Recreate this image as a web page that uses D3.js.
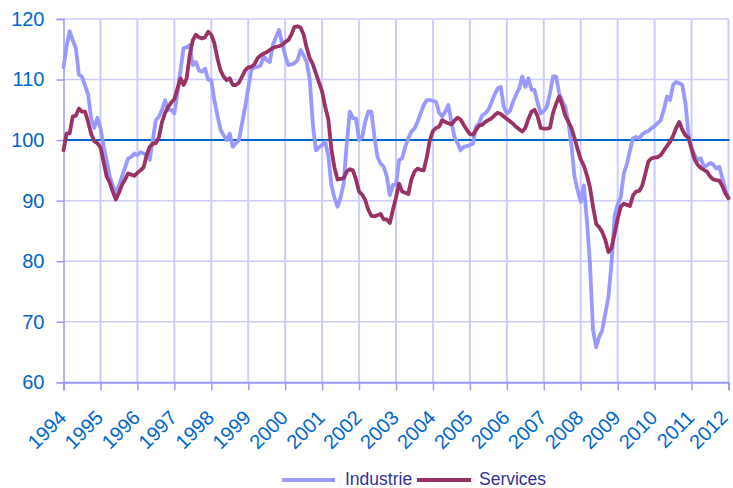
<!DOCTYPE html>
<html>
<head>
<meta charset="utf-8">
<script src="https://cdn.jsdelivr.net/npm/d3@7"></script>
<style>
  html, body { margin: 0; padding: 0; background: #ffffff; }
  svg { display: block; font-family: "Liberation Sans", Arial, sans-serif; }
</style>
</head>
<body>
<svg id="chart" width="733" height="488"></svg>
<script>
// Monthly values, January 1994 to January 2012
const yearLabels = ["1994","1995","1996","1997","1998","1999","2000","2001","2002","2003",
                    "2004","2005","2006","2007","2008","2009","2010","2011","2012"];
const yTicks = [60, 70, 80, 90, 100, 110, 120];
const seriesNames = ["Industrie", "Services"];

const industrie = [
  112, 115.5, 118, 116.5, 115.2, 110.8, 110.5, 109, 107.5, 103.5, 102, 103.7,
  102, 99, 96.7, 94, 92.5, 91.3, 92.5, 94, 95.5, 97, 97.2, 97.8,
  97.5, 98, 97.8, 97.5, 96.7, 100, 103.3, 103.9, 105, 106.6, 105, 105,
  104.4, 107.7, 111.5, 115.2, 115.3, 115.7, 112.4, 112.9, 111.5, 111.3, 111.8, 110,
  109.9, 106.6, 104.1, 101.7, 100.8, 100, 101.1, 98.9, 99.5, 100, 102.8, 105.5,
  108.5, 111.6, 112, 112.1, 112.3, 113.8, 113.2, 112.9, 115.7, 117, 118.2, 116,
  114, 112.4, 112.5, 112.7, 113.2, 114.9, 114, 112.9, 109.9, 102.5, 98.3, 98.8,
  99.2, 99.7, 97.5, 92.6, 90.5, 89, 90.5, 92.8, 99.4, 104.7, 103.6, 103.6,
  100, 100.5, 103, 104.7, 104.7, 100.5, 97.2, 96.1, 95.6, 94, 90.9, 92.6,
  92.6, 96.7, 97, 98.9, 100.3, 101.4, 101.9, 103, 104.4, 105.8, 106.6, 106.6,
  106.5, 106.3, 104.5, 103.9, 104.7, 105.8, 103, 100.5, 99.5, 98.3, 98.9, 99,
  99.2, 99.4, 102.2, 102.8, 104.1, 104.4, 105, 106.2, 107.5, 108.5, 108.8, 105.5,
  104.4, 104.8, 106.3, 107.5, 108.5, 110.5, 108.8, 110.2, 108.3, 108.3, 106.1, 104.4,
  104.8, 105.5, 107.7, 110.5, 110.5, 107.7, 106.5, 105.5, 103, 99, 93.9, 91.7,
  89.8, 92.5, 86.8, 79.6, 68.6, 65.8, 67.5, 68.6, 71.4, 74.1, 79.6, 87.5,
  89.3, 90.6, 94.5, 96.1, 98.3, 100.3, 100.5, 100.3, 101, 101.3, 101.5, 102,
  102.3, 102.8, 103.3, 105, 107.2, 106.6, 109.1, 109.6, 109.4, 109.1, 106.1, 101,
  98.8, 97.5, 96.7, 97, 95.6, 95.8, 96.2, 96, 95.3, 95.6, 93.7, 91.8,
  90.4
];

const services = [
  98.3, 101.1, 101.1, 103.9, 104, 105.2, 104.7, 104.7, 103, 101, 99.8, 99.5,
  98.8, 96.5, 94, 93, 91.5, 90.2, 91.3, 92.6, 93.5, 94.5, 94.3, 94.1,
  94.6, 95, 95.5, 97.5, 98.9, 99.4, 99.5, 100.5, 103, 104.5, 105.5, 106.2,
  106.8, 108.5, 110.2, 109.1, 110.2, 114, 116.5, 117.4, 117, 116.8, 117, 117.9,
  117.4, 116, 113.5, 111.5, 110.5, 109.9, 110.2, 109.1, 109.1, 109.5, 110.5, 111.5,
  112, 112.1, 112.5, 113.5, 114, 114.3, 114.5, 114.9, 115.2, 115.4, 115.5, 115.7,
  116.2, 116.5, 117.4, 118.7, 118.8, 118.6, 117.4, 115.2, 113.5, 112.5, 111, 109.5,
  108, 105.5, 103.5, 98.5, 95.5, 93.5, 93.6, 93.7, 94.8, 95.2, 95, 93.5,
  91.5, 91, 90.1, 88.5, 87.5, 87.4, 87.6, 87.8, 86.9, 86.9, 86.3, 88.5,
  90.5, 92.8, 91.5, 91.3, 91.1, 93.5, 94.8, 95.3, 95.1, 95, 97.2, 100,
  101.5, 102, 102.2, 103.3, 103, 102.8, 102.6, 103.2, 103.7, 103.4, 102.5, 101.7,
  101, 100.9, 101.7, 102.4, 102.5, 103, 103.3, 103.6, 104.1, 104.5, 104.3, 103.9,
  103.5, 103.1, 102.7, 102.2, 101.8, 101.4, 102, 103.5, 104.7, 105, 103.9, 102,
  101.9, 101.9, 102, 104.5, 106, 107.2, 105.8, 104, 103, 102, 100.3, 98.5,
  96.8, 95.8, 94.2, 92.2, 89, 86.2, 85.6, 84.8, 83.5, 81.5, 82.2, 84.5,
  87, 89, 89.5, 89.3, 89.1, 90.9, 91.5, 91.6, 92.5, 94.5, 96.5, 97,
  97.1, 97.2, 97.5, 98.3, 99, 99.7, 100.7, 102, 103, 101.7, 100.8, 100.4,
  98.5, 96.8, 95.9, 95.4, 95.1, 94.8, 94, 93.5, 93.4, 93.3, 92.4, 91.2,
  90.4
];

const colors = { Industrie: "#9999ff", Services: "#993366" };

const svg = d3.select("#chart");
const plotLeft = 63.5, plotRight = 728.5, plotTop = 19, plotBottom = 382.3;

const x = d3.scaleLinear().domain([0, industrie.length - 1]).range([plotLeft, plotRight]);
const y = d3.scaleLinear().domain([60, 120]).range([plotBottom, plotTop]);

const yearIdx = yearLabels.map((_, i) => i * 12);

// horizontal gridlines
svg.append("g").selectAll("line").data(yTicks.filter(d => d !== 60)).join("line")
  .attr("x1", plotLeft).attr("x2", plotRight + 1)
  .attr("y1", d => y(d)).attr("y2", d => y(d))
  .attr("stroke", "#ccccff").attr("stroke-width", 1.5);

// vertical gridlines
svg.append("g").selectAll("line").data(yearIdx.slice(1)).join("line")
  .attr("x1", d => x(d)).attr("x2", d => x(d))
  .attr("y1", plotTop).attr("y2", plotBottom)
  .attr("stroke", "#ccccff").attr("stroke-width", 2);

// y axis
const yAxis = svg.append("g").attr("transform", `translate(${plotLeft},0)`)
  .call(d3.axisLeft(y).tickValues(yTicks).tickSize(7).tickPadding(12).tickFormat(d3.format("d")));
yAxis.select(".domain").attr("stroke", "#9999ff").attr("stroke-width", 1.5);
yAxis.selectAll(".tick line").attr("stroke", "#9999ff").attr("stroke-width", 1.5);
yAxis.selectAll("text").attr("fill", "#0066cc").attr("font-size", 20)
  .attr("font-family", "Liberation Sans, Arial, sans-serif");

// x axis
const xAxis = svg.append("g").attr("transform", `translate(0,${plotBottom})`)
  .call(d3.axisBottom(x).tickValues(yearIdx).tickSize(8)
    .tickFormat((d, i) => yearLabels[i]));
xAxis.select(".domain").attr("stroke", "#9999ff").attr("stroke-width", 2);
xAxis.selectAll(".tick line").attr("stroke", "#9999ff").attr("stroke-width", 1.5);
const nLabels = yearLabels.length;
xAxis.selectAll("text")
  .attr("fill", "#0066cc").attr("font-size", 20)
  .attr("font-family", "Liberation Sans, Arial, sans-serif")
  .attr("text-anchor", "end")
  .attr("dy", 0).attr("y", 0)
  .attr("transform", (d, i) => `translate(${i === nLabels - 1 ? 0 : 3.5},36.5) rotate(-45)`);

// reference line at 100
svg.append("line")
  .attr("x1", plotLeft).attr("x2", plotRight + 1)
  .attr("y1", y(100)).attr("y2", y(100))
  .attr("stroke", "#0066cc").attr("stroke-width", 2);

// series lines
const line = d3.line().x((d, i) => x(i)).y(d => y(d));
[["Industrie", industrie], ["Services", services]].forEach(([name, data]) => {
  svg.append("path").datum(data)
    .attr("d", line)
    .attr("fill", "none")
    .attr("stroke", colors[name])
    .attr("stroke-width", 3.8)
    .attr("stroke-linejoin", "round")
    .attr("stroke-linecap", "round");
});

// legend
const legend = svg.append("g");
const legItems = [
  { name: seriesNames[0], x0: 282, x1: 335, tx: 345 },
  { name: seriesNames[1], x0: 417, x1: 471, tx: 479 }
];
legItems.forEach(it => {
  legend.append("line")
    .attr("x1", it.x0).attr("x2", it.x1).attr("y1", 480).attr("y2", 480)
    .attr("stroke", colors[it.name]).attr("stroke-width", 4);
  legend.append("text")
    .attr("x", it.tx).attr("y", 484.5)
    .attr("fill", "#333399").attr("font-size", 17.5)
    .text(it.name);
});
</script>
</body>
</html>
